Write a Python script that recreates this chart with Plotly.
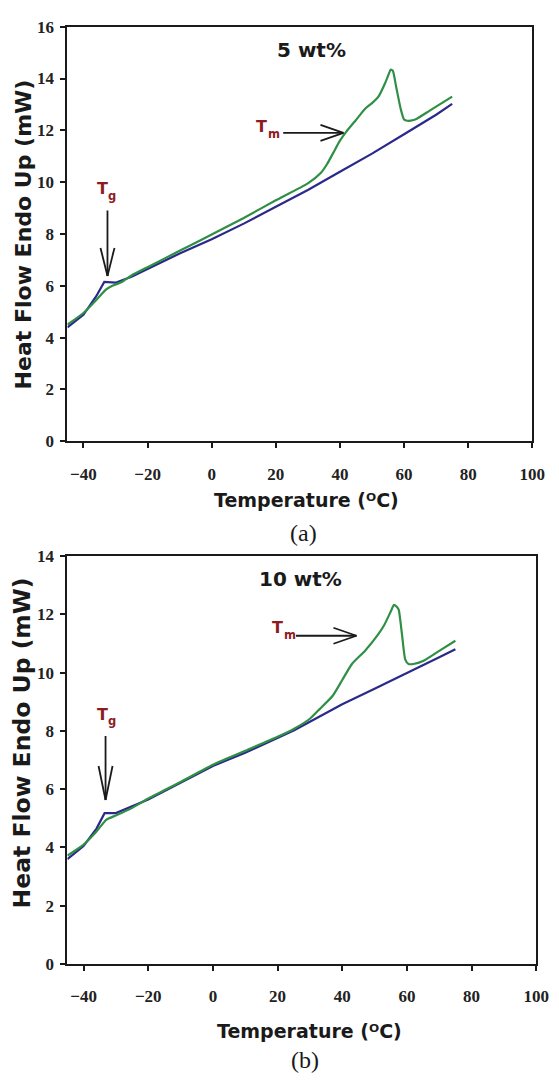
import plotly.graph_objects as go

W, H = 559, 1085

# ---------------- data ----------------
# (a) 5 wt%
temp_a_base = [-45, -40, -36, -33.5, -30, -25, -20, -10, 0, 10, 20, 30, 40, 50, 60, 70, 75]
flow_a_base = [4.4, 4.88, 5.6, 6.15, 6.12, 6.35, 6.65, 7.25, 7.8, 8.4, 9.05, 9.7, 10.4, 11.1, 11.85, 12.6, 13.02]

temp_a_sample = [-45, -40, -36, -33, -31, -28, -25, -20, -10, 0, 10, 20, 30, 34, 36, 38, 40, 42, 45, 48, 50,
                 52, 54, 55, 55.8, 56.5, 57.5, 59, 60, 61, 63, 64, 68, 72, 75]
flow_a_sample = [4.5, 4.95, 5.45, 5.85, 6.0, 6.15, 6.4, 6.72, 7.35, 7.98, 8.62, 9.3, 9.95, 10.35, 10.7, 11.15,
                 11.6, 11.95, 12.4, 12.85, 13.05, 13.3, 13.8, 14.1, 14.34, 14.3, 13.7, 12.8, 12.42, 12.37,
                 12.4, 12.45, 12.76, 13.07, 13.3]

# (b) 10 wt%
temp_b_base = [-45, -40, -36, -33.5, -30, -25, -20, -10, 0, 10, 20, 25, 30, 40, 50, 60, 70, 75]
flow_b_base = [3.6, 4.05, 4.65, 5.18, 5.18, 5.42, 5.65, 6.22, 6.8, 7.25, 7.75, 8.02, 8.32, 8.92, 9.45, 9.98, 10.53, 10.81]

temp_b_sample = [-45, -40, -36, -33, -30, -26, -22, -20, -10, 0, 10, 20, 25, 30, 33, 37, 40, 43, 47, 51, 53,
                 55, 56, 57, 57.5, 58.5, 59.5, 60.5, 62, 65, 70, 75]
flow_b_sample = [3.72, 4.1, 4.55, 4.95, 5.1, 5.3, 5.55, 5.68, 6.25, 6.84, 7.32, 7.8, 8.07, 8.42, 8.75, 9.2, 9.75,
                 10.3, 10.75, 11.3, 11.64, 12.1, 12.33, 12.25, 12.15, 11.3, 10.45, 10.3, 10.3, 10.4, 10.75, 11.1]

x_ticks = [-40, -20, 0, 20, 40, 60, 80, 100]
y_ticks_a = [0, 2, 4, 6, 8, 10, 12, 14, 16]
y_ticks_b = [0, 2, 4, 6, 8, 10, 12, 14]

x_title = "Temperature (\u1d3cC)"
y_title = "Heat Flow Endo Up (mW)"
panel_labels = ["(a)", "(b)"]
conc_labels = ["5 wt%", "10 wt%"]
t_main = "T"
tg_sub = "g"
tm_sub = "m"

# arrows: (tip_T, tip_v, tail_T, tail_v)
tg_arrow_a = (-32.5, 6.38, -32.5, 8.91)
tm_arrow_a = (41.1, 11.9, 22.3, 11.9)
tg_arrow_b = (-33.2, 5.63, -33.2, 7.83)
tm_arrow_b = (44.4, 11.27, 25.7, 11.27)

GREEN = "#2f8f45"
NAVY = "#2b2a8a"
RED = "#8e1b1e"
INK = "#1a1a1a"


def px(x, y):
    return x / W, 1 - y / H


fig = go.Figure()

fig.add_trace(go.Scatter(x=temp_a_base, y=flow_a_base, mode="lines", line=dict(color=NAVY, width=2.2),
                         xaxis="x", yaxis="y", showlegend=False))
fig.add_trace(go.Scatter(x=temp_a_sample, y=flow_a_sample, mode="lines",
                         line=dict(color=GREEN, width=2.2, shape="spline", smoothing=0.5),
                         xaxis="x", yaxis="y", showlegend=False))
fig.add_trace(go.Scatter(x=temp_b_base, y=flow_b_base, mode="lines", line=dict(color=NAVY, width=2.2),
                         xaxis="x2", yaxis="y2", showlegend=False))
fig.add_trace(go.Scatter(x=temp_b_sample, y=flow_b_sample, mode="lines",
                         line=dict(color=GREEN, width=2.2, shape="spline", smoothing=0.5),
                         xaxis="x2", yaxis="y2", showlegend=False))

axis_common = dict(showline=True, mirror=True, linecolor=INK, linewidth=2, ticks="outside", ticklen=5,
                   tickwidth=1.5, tickcolor=INK, showgrid=False, zeroline=False,
                   tickfont=dict(family="Liberation Serif", size=17, color="#222", weight="bold"))

fig.update_layout(
    width=W, height=H, margin=dict(l=0, r=0, t=0, b=0),
    paper_bgcolor="white", plot_bgcolor="white",
    xaxis=dict(domain=[69 / W, 545 / W], anchor="y", range=[-45, 100], tickvals=x_ticks,
               ticklabelstandoff=11, **axis_common),
    yaxis=dict(domain=[1 - 440 / H, 1 - 18 / H], anchor="x", range=[0, 16], tickvals=y_ticks_a,
               ticklabelstandoff=3, **axis_common),
    xaxis2=dict(domain=[69 / W, 549 / W], anchor="y2", range=[-45, 100], tickvals=x_ticks,
                ticklabelstandoff=11, **axis_common),
    yaxis2=dict(domain=[1 - 972 / H, 1 - 557 / H], anchor="x2", range=[0, 14], tickvals=y_ticks_b,
                ticklabelstandoff=3, **axis_common),
)

ann = []


def text_ann(x, y, text, size, family="DejaVu Sans", color=INK, angle=0, weight="bold"):
    xx, yy = px(x, y)
    ann.append(dict(x=xx, y=yy, xref="paper", yref="paper", text=text, showarrow=False, textangle=angle,
                    font=dict(family=family, size=size, color=color, weight=weight),
                    xanchor="center", yanchor="middle"))


# axis titles & labels
text_ann(25, 229, y_title, 22, angle=-90)
text_ann(22, 747, y_title, 23.5, angle=-90)
text_ann(314, 500, x_title, 19)
text_ann(317, 1040, x_title, 19)
text_ann(311, 533, panel_labels[0], 24, family="Liberation Serif", weight="normal")
text_ann(312, 1070, panel_labels[1], 24, family="Liberation Serif", weight="normal")
text_ann(319, 42, conc_labels[0], 20)
text_ann(308, 580, conc_labels[1], 20)

# T_g / T_m labels (main letter + subscript letter)
text_ann(105, 183, t_main, 16, color=RED)
text_ann(115, 190, tg_sub, 11.5, color=RED)
text_ann(105, 718, t_main, 16, color=RED)
text_ann(115, 725, tg_sub, 11.5, color=RED)
text_ann(268, 120, t_main, 16, color=RED)
text_ann(280.5, 127, tm_sub, 11.5, color=RED)
text_ann(284, 630, t_main, 16, color=RED)
text_ann(296.5, 637, tm_sub, 11.5, color=RED)

shapes = []


def arrow(spec, xr, yr, barbs):
    tx, ty, ax, ay = spec
    shapes.append(dict(type="line", xref=xr, yref=yr, x0=ax, y0=ay, x1=tx, y1=ty,
                       line=dict(color=INK, width=1.8)))
    for bx, by in barbs:
        shapes.append(dict(type="line", xref=xr, yref=yr, xsizemode="pixel", ysizemode="pixel",
                           xanchor=tx, yanchor=ty, x0=0, y0=0, x1=bx, y1=by,
                           line=dict(color=INK, width=1.8)))


arrow(tg_arrow_a, "x", "y", [(-7, 28), (7, 28)])
arrow(tm_arrow_a, "x", "y", [(-23, -8), (-23, 8)])
arrow(tg_arrow_b, "x2", "y2", [(-7, 34), (7, 34)])
arrow(tm_arrow_b, "x2", "y2", [(-23, -8), (-23, 8)])

fig.update_layout(annotations=ann, shapes=shapes)

fig.write_html("out.html")
